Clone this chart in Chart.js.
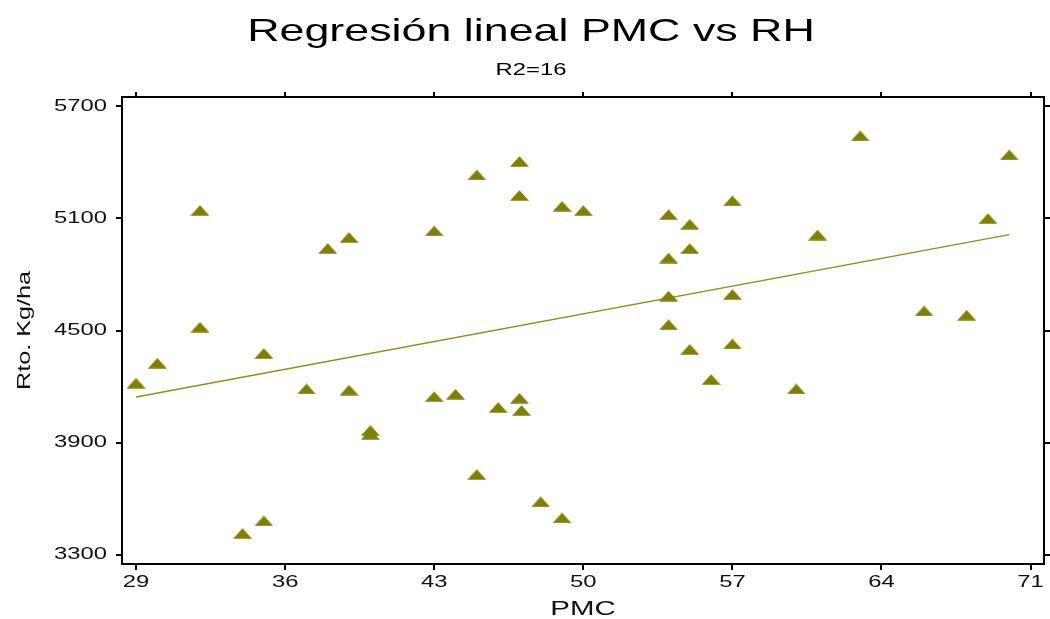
<!DOCTYPE html>
<html lang="es">
<head>
<meta charset="utf-8">
<title>Regresión lineal PMC vs RH</title>
<script src="https://cdn.jsdelivr.net/npm/chart.js@4.4.1/dist/chart.umd.min.js"></script>
<style>
  html, body { margin: 0; padding: 0; background: #ffffff; }
  #wrap { position: relative; width: 1050px; height: 619px; }
</style>
</head>
<body>
<div id="wrap"><canvas id="chart"></canvas></div>
<script>
// PMC (x) and yield in Kg/ha (y) for each plot
const pmc = [
  32, 32, 29, 30, 35, 34, 35, 38, 39, 43, 45, 47, 47, 49, 50,
  37, 39, 40, 40, 43, 44, 46, 47, 47.1, 45, 48, 49,
  54, 55, 57, 63, 70, 69, 61, 55, 54, 54, 57, 54, 66, 68, 55, 57, 56, 60
];
const rendimiento = [
  5143, 4518, 4218, 4325, 4377, 3413, 3481, 4939, 4998, 5033, 5333, 5405, 5223, 5165, 5142,
  4187, 4181, 3965, 3944, 4146, 4159, 4088, 4137, 4072, 3729, 3583, 3497,
  5120, 5069, 5194, 5542, 5440, 5099, 5011, 4939, 4888, 4684, 4693, 4531, 4605, 4582, 4399, 4428, 4238, 4187
];

// Fitted regression line end points
const ajusteX = [29, 70];
const ajusteY = [4144, 5013];

// Axis tick values
const xTicks = [29, 36, 43, 50, 57, 64, 71];
const yTicks = [3300, 3900, 4500, 5100, 5700];

const OLIVE = '#808000';
const INK = '#111111';
const FONT = "'Liberation Sans', Arial, sans-serif";

// Text in this chart is set in an expanded face: stretch glyphs along the text direction
const EXPAND = 1.4;
const canvas = document.getElementById('chart');
const ctx = canvas.getContext('2d');
const plainFill = ctx.fillText.bind(ctx);
ctx.fillText = function (text, x, y) {
  this.save();
  this.translate(x, y);
  this.scale(EXPAND, 1);
  plainFill(text, 0, 0);
  this.restore();
};

// Flat filled triangle marker
const marker = document.createElement('canvas');
marker.width = 19;
marker.height = 11;
(function () {
  const m = marker.getContext('2d');
  m.fillStyle = OLIVE;
  m.beginPath();
  m.moveTo(9.5, 0.2);
  m.lineTo(19, 10.8);
  m.lineTo(0, 10.8);
  m.closePath();
  m.fill();
})();

const puntos = pmc.map((x, i) => ({ x: x, y: rendimiento[i] }));
const recta = ajusteX.map((x, i) => ({ x: x, y: ajusteY[i] }));

const fixTicks = (values) => (scale) => {
  scale.ticks = values.map(v => ({ value: v }));
};
const plainNumber = (v) => String(v);

const tickFont = { family: FONT, size: 17 };

new Chart(ctx, {
  type: 'scatter',
  data: {
    datasets: [
      {
        label: 'Rto. Kg/ha',
        data: puntos,
        pointStyle: marker,
        pointRadius: 5,
        pointHoverRadius: 5
      },
      {
        label: 'Ajuste',
        data: recta,
        showLine: true,
        borderColor: '#8f8f1c',
        borderWidth: 1.4,
        pointRadius: 0,
        pointHoverRadius: 0,
        fill: false
      }
    ]
  },
  options: {
    responsive: true,
    maintainAspectRatio: false,
    animation: false,
    events: [],
    layout: { padding: { left: 12, right: 0, top: 0, bottom: 0 } },
    plugins: {
      legend: { display: false },
      tooltip: { enabled: false },
      title: {
        display: true,
        text: 'Regresión lineal PMC vs RH',
        color: '#000000',
        font: { family: FONT, size: 32, weight: 'normal', lineHeight: 1.2 },
        padding: { top: 13, bottom: 0 }
      },
      subtitle: {
        display: true,
        text: 'R2=16',
        color: '#000000',
        font: { family: FONT, size: 17, weight: 'normal', lineHeight: 1.2 },
        padding: { top: 8.4, bottom: 0 }
      }
    },
    scales: {
      x: {
        type: 'linear',
        position: 'bottom',
        min: 28.34,
        max: 71.63,
        afterBuildTicks: fixTicks(xTicks),
        afterFit: (s) => { s.height = 55; },
        border: { display: true, color: '#000000', width: 2 },
        grid: { display: true, drawOnChartArea: false, drawTicks: true, tickLength: 6, color: '#000000', lineWidth: 2 },
        ticks: { color: INK, font: tickFont, padding: 2, autoSkip: false, maxRotation: 0, callback: plainNumber },
        title: {
          display: true,
          text: 'PMC',
          color: '#111111',
          font: { family: FONT, size: 21, lineHeight: 0.95 },
          padding: { top: 0, bottom: 0 }
        }
      },
      x2: {
        type: 'linear',
        position: 'top',
        min: 28.34,
        max: 71.63,
        afterBuildTicks: fixTicks(xTicks),
        afterFit: (s) => { s.height = 16.8; },
        border: { display: true, color: '#000000', width: 2 },
        grid: { display: true, drawOnChartArea: false, drawTicks: true, tickLength: 5, color: '#000000', lineWidth: 2 },
        ticks: { display: false }
      },
      y: {
        type: 'linear',
        position: 'left',
        min: 3250,
        max: 5750,
        afterBuildTicks: fixTicks(yTicks),
        afterFit: (s) => { s.width = 110; },
        border: { display: true, color: '#000000', width: 2 },
        grid: { display: true, drawOnChartArea: false, drawTicks: true, tickLength: 6, color: '#000000', lineWidth: 2 },
        ticks: { color: INK, font: tickFont, padding: 9, autoSkip: false, callback: plainNumber },
        title: {
          display: true,
          text: 'Rto. Kg/ha',
          color: '#111111',
          font: { family: FONT, size: 18, lineHeight: 1 },
          padding: { top: 4, bottom: 0 }
        }
      },
      y2: {
        type: 'linear',
        position: 'right',
        min: 3250,
        max: 5750,
        afterBuildTicks: fixTicks(yTicks),
        afterFit: (s) => { s.width = 6; },
        border: { display: true, color: '#000000', width: 2 },
        grid: { display: true, drawOnChartArea: false, drawTicks: true, tickLength: 6, color: '#000000', lineWidth: 2 },
        ticks: { display: false }
      }
    }
  }
});
</script>
</body>
</html>
